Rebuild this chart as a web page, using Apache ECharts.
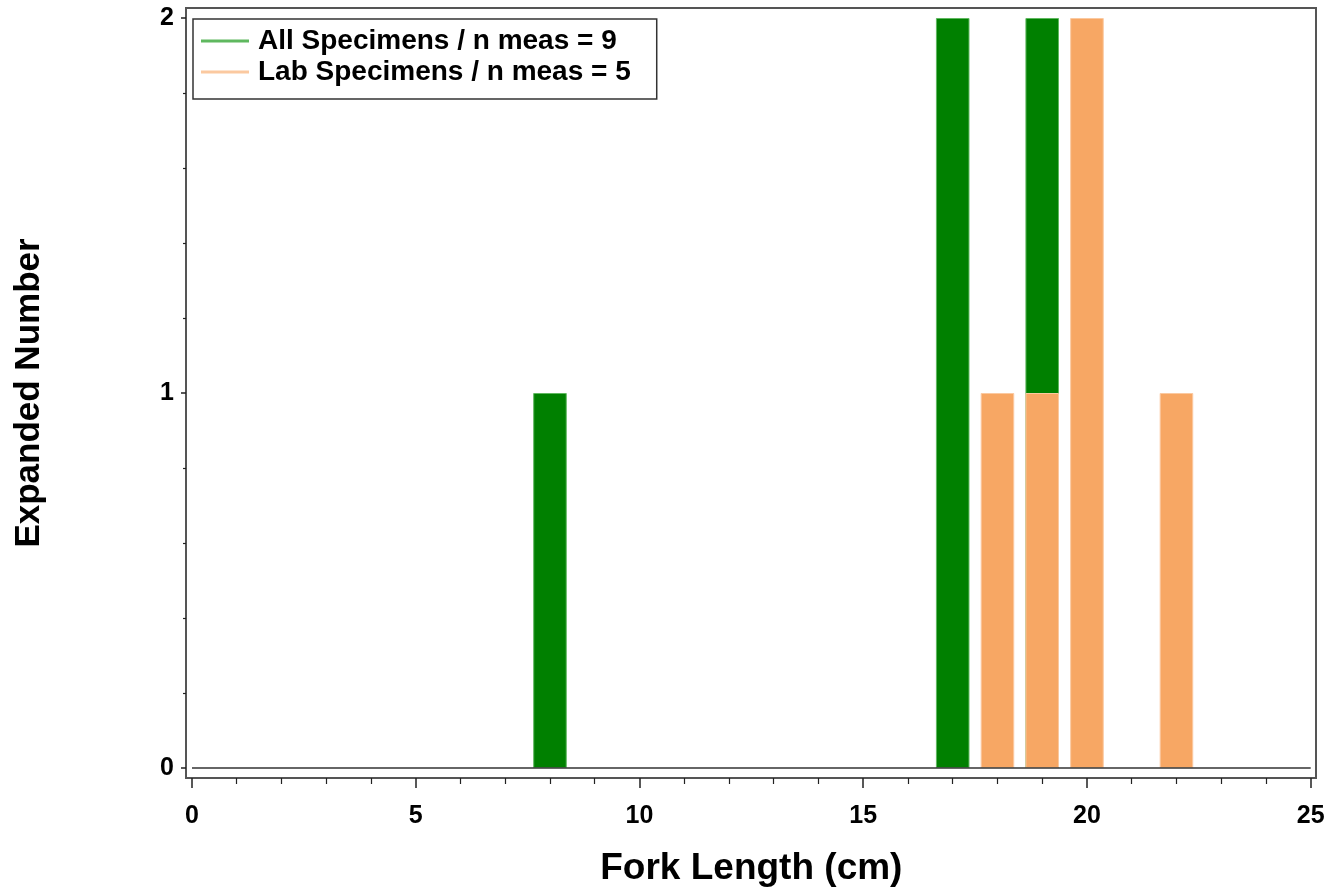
<!DOCTYPE html>
<html>
<head>
<meta charset="utf-8">
<script src="https://cdn.jsdelivr.net/npm/echarts@6/dist/echarts.min.js"></script>
<style>
html,body{margin:0;padding:0;background:#fff;}
#chart{width:1343px;height:895px;}
</style>
</head>
<body>
<div id="chart"></div>
<script>
// Data
var allName = 'All Specimens / n meas = 9';
var labName = 'Lab Specimens / n meas = 5';
var allLengths = [8, 17, 19];
var allCounts = [1, 2, 2];
var labLengths = [18, 19, 20, 22];
var labCounts = [1, 1, 2, 1];
var xTitle = 'Fork Length (cm)';
var yTitle = 'Expanded Number';

function pairs(xs, ys) { return xs.map(function (x, i) { return [x, ys[i]]; }); }

var FONT = '"Liberation Sans", Arial, sans-serif';
var chart = echarts.init(document.getElementById('chart'), null, { renderer: 'canvas' });

var option = {
  animation: false,
  backgroundColor: '#fff',
  textStyle: { fontFamily: FONT },
  grid: [
    { left: 186, top: 8, width: 1130, height: 770, show: true, borderColor: '#555', borderWidth: 2, backgroundColor: 'transparent' },
    { left: 192, top: 18, width: 1118.7, height: 750 }
  ],
  legend: {
    orient: 'vertical',
    left: 193, top: 19,
    padding: [8, 26, 13, 8],
    itemWidth: 46, itemHeight: 1, itemGap: 3,
    borderColor: '#333', borderWidth: 1.5,
    backgroundColor: '#fff',
    icon: 'rect',
    textStyle: { fontFamily: FONT, fontSize: 28, fontWeight: 'bold', color: '#000', padding: [0, 0, 0, 5] },
    data: [
      { name: allName, itemStyle: { color: '#3aa23a' } },
      { name: labName, itemStyle: { color: '#f9b886' } }
    ]
  },
  xAxis: [
    { gridIndex: 0, type: 'value', min: 0, max: 1, show: false },
    {
      gridIndex: 1, type: 'value', min: 0, max: 25, interval: 5,
      offset: 10,
      name: xTitle, nameLocation: 'middle', nameGap: 72,
      nameTextStyle: { fontFamily: FONT, fontSize: 37, fontWeight: 'bold', color: '#000' },
      axisLine: { show: false, onZero: false },
      axisTick: { show: true, inside: false, length: 10, lineStyle: { color: '#222', width: 1.5 } },
      minorTick: { show: true, splitNumber: 5, length: 6, lineStyle: { color: '#222', width: 1.2 } },
      splitLine: { show: false },
      axisLabel: { margin: 26, fontFamily: FONT, fontSize: 25, fontWeight: 'bold', color: '#000' }
    }
  ],
  yAxis: [
    { gridIndex: 0, type: 'value', min: 0, max: 1, show: false },
    {
      gridIndex: 1, type: 'value', min: 0, max: 2, interval: 1,
      offset: 6,
      name: yTitle, nameLocation: 'middle', nameGap: 139,
      nameTextStyle: { fontFamily: FONT, fontSize: 35, fontWeight: 'bold', color: '#000' },
      axisLine: { show: false, onZero: false },
      axisTick: { show: true, inside: false, length: 5, lineStyle: { color: '#222', width: 1.5 } },
      minorTick: { show: true, splitNumber: 5, length: 3, lineStyle: { color: '#222', width: 1.2 } },
      splitLine: { show: false },
      axisLabel: { margin: 12, fontFamily: FONT, fontSize: 25, fontWeight: 'bold', color: '#000' }
    }
  ],
  series: [
    {
      name: allName, type: 'bar', xAxisIndex: 1, yAxisIndex: 1,
      data: pairs(allLengths, allCounts),
      barWidth: '75%', barGap: '-100%',
      itemStyle: { color: '#008000', borderColor: '#5fb85f', borderWidth: 1 },
      markLine: {
        silent: true, symbol: 'none', label: { show: false },
        lineStyle: { color: '#333', width: 1.5, type: 'solid' },
        data: [{ yAxis: 0 }]
      }
    },
    {
      name: labName, type: 'bar', xAxisIndex: 1, yAxisIndex: 1,
      data: pairs(labLengths, labCounts),
      barWidth: '75%', barGap: '-100%',
      itemStyle: { color: '#f7a764', borderColor: '#fbc9a0', borderWidth: 1 }
    }
  ]
};
chart.setOption(option);
</script>
</body>
</html>
